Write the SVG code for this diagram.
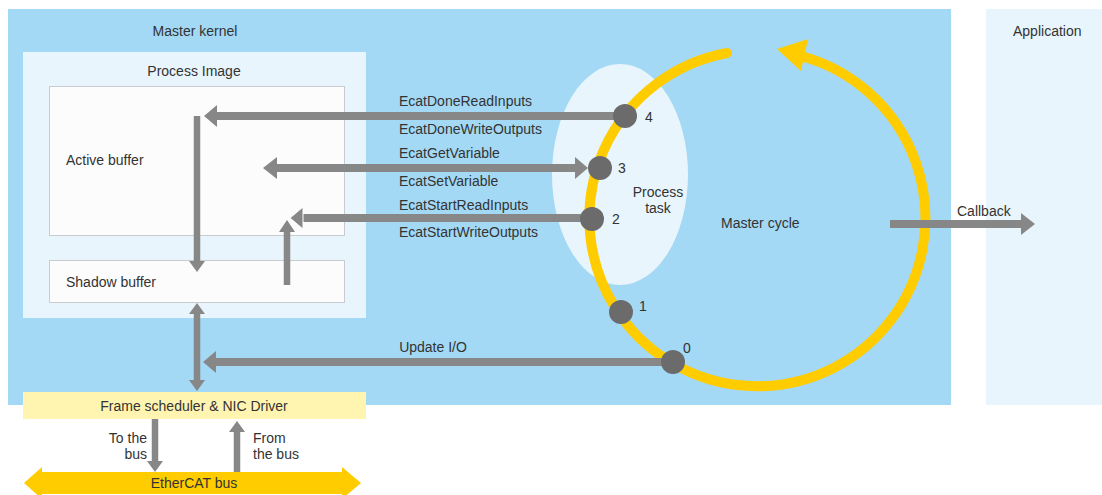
<svg xmlns="http://www.w3.org/2000/svg" width="1102" height="495" viewBox="0 0 1102 495">
<style>
text{font-family:"Liberation Sans",Arial,sans-serif;font-size:14px;fill:#333333}
.mid{text-anchor:middle}
.end{text-anchor:end}
.ln{stroke:#878787;stroke-width:8;fill:none}
.lv{stroke:#878787;stroke-width:6.5;fill:none}
.hd{fill:#878787}
.dot{fill:#6b6b6b}
</style>
<rect width="1102" height="495" fill="#ffffff"/>
<g id="master-kernel">
<rect x="8" y="9" width="943" height="396" fill="#a3d9f5"/>
<text class="mid" x="195" y="36">Master kernel</text>
</g>
<g id="application">
<rect x="986" y="9" width="116" height="396" fill="#e8f5fd"/>
<text x="1013" y="36">Application</text>
</g>
<g id="process-image">
<rect x="23" y="52" width="343" height="266" fill="#e8f5fd"/>
<text class="mid" x="194" y="76">Process Image</text>
</g>
<g id="active-buffer">
<rect x="49.5" y="86.5" width="295" height="149" fill="#fcfcfc" stroke="#c8cbcf" stroke-width="1"/>
<text x="66" y="165">Active buffer</text>
</g>
<g id="shadow-buffer">
<rect x="49.5" y="260.5" width="295" height="42" fill="#fcfcfc" stroke="#c8cbcf" stroke-width="1"/>
<text x="66" y="287">Shadow buffer</text>
</g>
<g id="process-task">
<ellipse cx="620" cy="174.5" rx="68" ry="110.5" fill="#e8f5fd"/>
</g>
<g id="master-cycle">
<path d="M801 56 A168 168 0 1 1 727 53" fill="none" stroke="#ffcc00" stroke-width="10" stroke-linecap="round"/>
<polygon points="777,49 808,39 801,71" fill="#ffcc00"/>
<text x="721" y="228">Master cycle</text>
</g>
<g id="frame-scheduler">
<rect x="23" y="392" width="343" height="27" fill="#fff5b0"/>
<text class="mid" x="194" y="411">Frame scheduler &amp; NIC Driver</text>
</g>
<g id="ethercat-bus">
<polygon points="24,483 42,467 42,472 342,472 342,467 361,483 342,499 342,494 42,494 42,499" fill="#ffcc00"/>
<text class="mid" x="194" y="488">EtherCAT bus</text>
</g>
<g id="connectors">
<path class="ln" d="M625 116 H214"/>
<polygon class="hd" points="204,116 217,105 217,127"/>
<path class="lv" d="M197 116 V263"/>
<polygon class="hd" points="197,272 189,261 205,261"/>
<path class="ln" d="M276 168 H577"/>
<polygon class="hd" points="263,168 277,157 277,179"/>
<polygon class="hd" points="588,168 575,157 575,179"/>
<path class="ln" d="M592 218 H300"/>
<polygon class="hd" points="290,218 303,207 303,229" stroke="#ffffff" stroke-width="1"/>
<path class="lv" d="M287 285 V230"/>
<polygon class="hd" points="287,220 279,232 295,232"/>
<path class="ln" d="M673 362 H214"/>
<polygon class="hd" points="203,362 216,351 216,373"/>
<path class="lv" d="M197 312 V382"/>
<polygon class="hd" points="197,303 189,314 205,314"/>
<polygon class="hd" points="197,391 189,380 205,380"/>
<path class="ln" d="M890 224 H1022" stroke-width="9"/>
<polygon class="hd" points="1035,224 1021,213 1021,235"/>
<path class="lv" d="M155 419 V463"/>
<polygon class="hd" points="155,472 147,461 163,461"/>
<path class="lv" d="M237 472 V430"/>
<polygon class="hd" points="237,421 229,432 245,432"/>
</g>
<g id="labels">
<text x="399" y="106">EcatDoneReadInputs</text>
<text x="399" y="134">EcatDoneWriteOutputs</text>
<text x="399" y="158">EcatGetVariable</text>
<text x="399" y="186">EcatSetVariable</text>
<text x="399" y="210">EcatStartReadInputs</text>
<text x="399" y="237">EcatStartWriteOutputs</text>
<text class="mid" x="433" y="352">Update I/O</text>
<text x="957" y="216">Callback</text>
<text class="mid" x="658" y="197">Process</text>
<text class="mid" x="658" y="213">task</text>
<text class="end" x="147" y="443">To the</text>
<text class="end" x="147" y="459">bus</text>
<text x="253" y="443">From</text>
<text x="253" y="459">the bus</text>
</g>
<g id="steps">
<circle class="dot" cx="625" cy="116" r="12"/>
<text x="645" y="122">4</text>
<circle class="dot" cx="600" cy="168" r="12"/>
<text x="618" y="173">3</text>
<circle class="dot" cx="592" cy="219" r="12"/>
<text x="612" y="224">2</text>
<circle class="dot" cx="621" cy="312" r="12"/>
<text x="639" y="311">1</text>
<circle class="dot" cx="673" cy="362" r="12"/>
<text x="683" y="353">0</text>
</g>
</svg>
